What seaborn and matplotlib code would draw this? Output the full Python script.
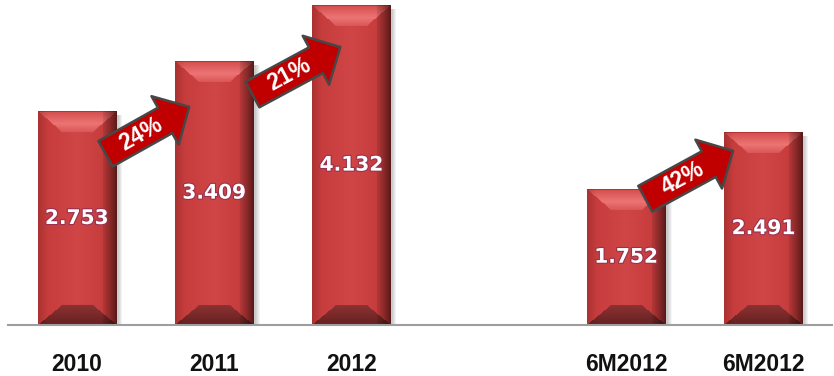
import numpy as np
import pandas as pd
import matplotlib
matplotlib.use("Agg")
import matplotlib.pyplot as plt
import matplotlib.colors as mcolors
import matplotlib.patheffects as pe
from matplotlib.patches import FancyArrowPatch, ArrowStyle
import seaborn as sns

# ---------------- data ----------------
categories = ["2010", "2011", "2012", "", "6M2012", "6M2012"]   # tick labels
slot_keys = ["2010", "2011", "2012", "gap", "6M2012 a", "6M2012 b"]
bar_keys = ["2010", "2011", "2012", "6M2012 a", "6M2012 b"]
values = [2.753, 3.409, 4.132, 1.752, 2.491]
growth_labels = ["24%", "21%", "42%"]
growth_pairs = [(0, 1), (1, 2), (3, 4)]      # from bar -> to bar

# ---------------- layout / style ----------------
# arrow tail offset from (bar center, value) of the source bar, tip offset relative to target bar
arrow_offsets = [((0.21, -0.54), (-0.18, -0.59)),
                 ((0.28, -0.43), (-0.08, -0.54)),
                 ((0.14, -0.12), (-0.22, -0.24))]

df = pd.DataFrame({"key": bar_keys, "value": values})

sns.set_theme(style="white")
plt.rcParams["font.family"] = ["Liberation Sans", "DejaVu Sans"]

W_PX, H_PX = 834, 376
fig = plt.figure(figsize=(W_PX / 100, H_PX / 100), dpi=100)
ax = fig.add_axes([8 / W_PX, 51 / H_PX, 824 / W_PX, 325 / H_PX])

sns.barplot(data=df, x="key", y="value", order=slot_keys, color="#CC4040",
            saturation=1, width=0.57, errorbar=None, ax=ax, zorder=2)

XLIM = (-0.5, 5.5)
YLIM = (0, 4.2)
ax.set_xlim(*XLIM)
ax.set_ylim(*YLIM)


def rgb(h):
    return np.array(mcolors.to_rgb(h))


def mix(c1, c2, t):
    t = np.clip(t, 0, 1)[..., None]
    return c1 * (1 - t) + c2 * t


def bevel_image(W, H):
    yy, xx = np.mgrid[0:H, 0:W] + 0.5
    dl, dr, dt, db = xx, W - xx, yy, H - yy
    u = xx / W
    face = np.where((u < 0.5)[..., None],
                    mix(rgb("#C43A3A"), rgb("#D04646"), u / 0.5),
                    mix(rgb("#D04646"), rgb("#C23838"), (u - 0.5) / 0.5))
    img = face.copy()
    BT, BB, BX = 21.0, 20.0, 24.0
    top = (dt < BT) & (dt / BT <= dl / BX) & (dt / BT <= dr / BX)
    bot = (db < BB) & (db / BB <= dl / BX) & (db / BB <= dr / BX)
    tt = dt / BT
    tcol = np.where((tt < 0.6)[..., None],
                    mix(rgb("#D44C4C"), rgb("#EC7474"), tt / 0.6),
                    mix(rgb("#EC7474"), rgb("#DA5656"), (tt - 0.6) / 0.4))
    tcol = np.where((dt < 1.5)[..., None], rgb("#B83434"), tcol)
    img[top] = tcol[top]
    bcol = mix(rgb("#662020"), rgb("#8C3232"), db / BB)
    img[bot] = bcol[bot]
    # side shading
    lf = np.where(dl < 10, 0.86 + 0.14 * dl / 10, 1.0)
    rf = np.where(dr < 14, 0.42 + 0.50 * (dr / 14) ** 0.8, 1.0)
    img = img * (lf * rf)[..., None]
    return np.clip(img, 0, 1)


# beveled bars drawn over seaborn's bars
px_per_x = ax.transData.transform((1, 0))[0] - ax.transData.transform((0, 0))[0]
px_per_y = ax.transData.transform((0, 1))[1] - ax.transData.transform((0, 0))[1]
for p in ax.patches:
    x0, w, h = p.get_x(), p.get_width(), p.get_height()
    Wp = int(round(w * px_per_x))
    Hp = int(round(h * px_per_y))
    ax.imshow(bevel_image(Wp, Hp), extent=(x0, x0 + w, 0, h), aspect="auto",
              zorder=3, interpolation="bilinear")
    # soft drop shadow on the right
    sw = 7
    sh = np.zeros((1, sw, 4))
    sh[..., :3] = 0.35
    sh[0, :, 3] = np.linspace(0.45, 0.0, sw)
    ax.imshow(sh, extent=(x0 + w, x0 + w + sw / px_per_x, 0, h - 4 / px_per_y),
              aspect="auto", zorder=1.5, interpolation="bilinear")

ax.set_xlim(*XLIM)
ax.set_ylim(*YLIM)

# value labels
txts = ax.bar_label(ax.containers[0], labels=[f"{v:.3f}" for v in values],
                    label_type="center", color="white", fontsize=14.5,
                    fontweight="bold", family="DejaVu Sans")
for t in txts:
    t.set_zorder(6)
    t.set_path_effects([pe.withStroke(linewidth=1.6, foreground="#9A3050")])

# growth arrows
centers = [p.get_x() + p.get_width() / 2 for p in ax.patches]
for (i, j), lab, ((tdx, tdy), (hdx, hdy)) in zip(growth_pairs, growth_labels, arrow_offsets):
    tail = (centers[i] + tdx, values[i] + tdy)
    tip = (centers[j] + hdx, values[j] + hdy)
    arr = FancyArrowPatch(posA=tail, posB=tip,
                          arrowstyle=ArrowStyle.Simple(head_length=20, head_width=40, tail_width=21),
                          mutation_scale=1, shrinkA=0, shrinkB=0,
                          fc="#C00000", ec="#474747", lw=1.8, zorder=7)
    ax.add_patch(arr)
    pa = ax.transData.transform(tail)
    pb = ax.transData.transform(tip)
    ang = np.degrees(np.arctan2(pb[1] - pa[1], pb[0] - pa[0]))
    tx = tail[0] + 0.42 * (tip[0] - tail[0])
    ty = tail[1] + 0.42 * (tip[1] - tail[1])
    ax.text(tx, ty, lab, rotation=ang, rotation_mode="anchor", ha="center",
            va="center", color="white", fontsize=16.5, fontweight="bold",
            family="Liberation Sans", zorder=8)

# axes styling
for s in ["left", "top", "right"]:
    ax.spines[s].set_visible(False)
ax.spines["bottom"].set_color("#9E9E9E")
ax.spines["bottom"].set_linewidth(1.5)
ax.spines["bottom"].set_zorder(4)
ax.set_yticks([])
ax.set_xticks(range(len(categories)), labels=categories)
ax.set_xticks(np.arange(-0.5, len(categories), 1), minor=True)
ax.tick_params(axis="x", which="major", length=0, pad=20, labelsize=16.5, labelcolor="#111111")
ax.tick_params(axis="x", which="minor", length=7.5, width=1.3, color="#9E9E9E", direction="out")
for lbl in ax.get_xticklabels():
    lbl.set_fontweight("bold")
    lbl.set_family("Liberation Sans")
ax.set_xlabel("")
ax.set_ylabel("")
ax.set_facecolor("white")

fig.savefig("out.png", dpi=100, facecolor="white")
